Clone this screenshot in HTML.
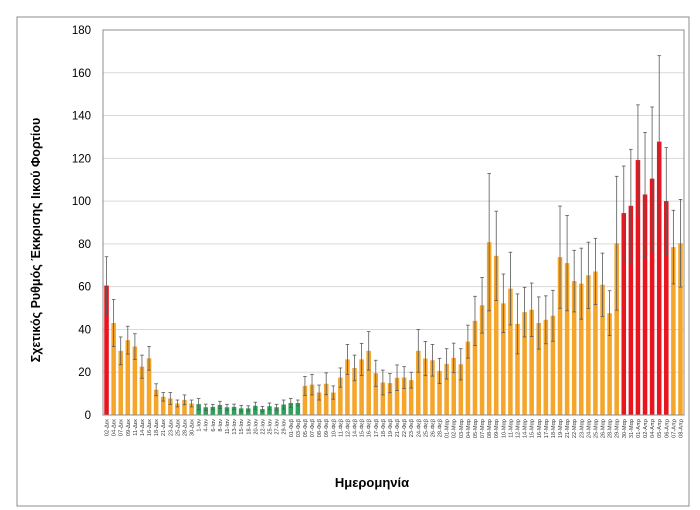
<!DOCTYPE html>
<html><head><meta charset="utf-8"><style>
html,body{margin:0;padding:0;background:#fff;}
svg{display:block;font-family:"Liberation Sans",sans-serif;}
</style></head><body>
<svg id="chart" width="700" height="510">
<rect x="17" y="17" width="672" height="489" fill="#fff" stroke="#8c8c8c" stroke-width="1"/>
<g id="grid"></g>
<g id="bars"></g>
<g id="errs"></g>
<rect x="103" y="30" width="581" height="385" fill="none" stroke="#8c8c8c" stroke-width="1"/>
<g id="yticks"></g>
<g id="xticks"></g>
<text x="40" y="240" transform="rotate(-90 40 240)" text-anchor="middle" font-size="12.5" font-weight="bold" fill="#000">Σχετικός Ρυθμός Έκκρισης Ιικού Φορτίου</text>
<text x="372" y="487" text-anchor="middle" font-size="13" font-weight="bold" fill="#000">Ημερομηνία</text>
</svg>
<script>
const categories = ["02-Δεκ","04-Δεκ","07-Δεκ","09-Δεκ","11-Δεκ","14-Δεκ","16-Δεκ","18-Δεκ","21-Δεκ","23-Δεκ","25-Δεκ","28-Δεκ","30-Δεκ",
"1-Ιαν","4-Ιαν","6-Ιαν","8-Ιαν","11-Ιαν","13-Ιαν","15-Ιαν","18-Ιαν","20-Ιαν","22-Ιαν","25-Ιαν","27-Ιαν","29-Ιαν","01-Φεβ","03-Φεβ",
"05-Φεβ","07-Φεβ","08-Φεβ","09-Φεβ","10-Φεβ","11-Φεβ","12-Φεβ","14-Φεβ","15-Φεβ","16-Φεβ","17-Φεβ","18-Φεβ","19-Φεβ","21-Φεβ","22-Φεβ","23-Φεβ","24-Φεβ","25-Φεβ","26-Φεβ","28-Φεβ",
"01-Μαρ","02-Μαρ","03-Μαρ","04-Μαρ","05-Μαρ","07-Μαρ","08-Μαρ","09-Μαρ","10-Μαρ","11-Μαρ","12-Μαρ","14-Μαρ","15-Μαρ","16-Μαρ","17-Μαρ","18-Μαρ","19-Μαρ","21-Μαρ","22-Μαρ","23-Μαρ","24-Μαρ","25-Μαρ","26-Μαρ","28-Μαρ","29-Μαρ","30-Μαρ","31-Μαρ",
"01-Απρ","02-Απρ","04-Απρ","05-Απρ","06-Απρ","07-Απρ","08-Απρ"];
const values = [60.5,43,30,35,32,22.6,26.5,11.8,8.5,7.7,5.4,7.1,5.4,
5.1,3.6,3.8,4.7,3.6,3.8,3.1,3.1,4.3,2.8,4.1,3.6,4.9,5.6,5.6,
13.6,14.2,10.5,14.6,10.5,17.5,26,22,26,30,19.5,15.2,14.9,17.4,17.5,16.3,30,26.4,25.6,20.6,
23.9,26.7,23.7,34.3,44,51.3,80.8,74.4,52.2,59.1,42.6,48.1,49.2,43,44.5,46.4,73.8,71,62.6,61.4,65.3,67.1,60.9,47.6,80.3,94.4,97.8,
119.2,103.1,110.5,127.8,100,78.5,80.3];
const errors = [13.5,11,6.5,6.5,6,5.4,5.5,2.8,2,2.8,1.6,2.3,1.6,
2.6,1.5,1.2,1.7,1.4,1.3,1.4,1.2,1.7,1.2,1.5,1.4,2.1,2.1,1.4,
4.4,4.8,3.5,5.1,3.1,4.5,7,6,7.5,9,6.1,5.8,4.5,6,5.1,3.7,10,8,7.4,5.9,
7.1,6.9,7.3,7.7,11.5,13,32.1,20.9,13.7,17,14,11.6,12.5,12.2,11.2,11.9,23.9,22.3,14.4,16.6,15.5,15.5,14.8,10.5,31.3,22,26.4,
25.8,29,33.5,40.2,25,17.2,20.5];
const groups = ["r","o","o","o","o","o","o","o","o","o","o","o","o",
"g","g","g","g","g","g","g","g","g","g","g","g","g","g","g",
"o","o","o","o","o","o","o","o","o","o","o","o","o","o","o","o","o","o","o","o",
"o","o","o","o","o","o","o","o","o","o","o","o","o","o","o","o","o","o","o","o","o","o","o","o","o","r","r",
"r","r","r","r","r","o","o"];
const yTicks = [0,20,40,60,80,100,120,140,160,180];

const NS="http://www.w3.org/2000/svg";
const X0=103,X1=684,Y0=415,Y1=30,YMAX=180;
const band=(X1-X0)/categories.length;
const xs=i=>X0+band*(i+0.5);
const ys=v=>Y0-(v/YMAX)*(Y0-Y1);
const colors={o:"#f5a52a",r:"#e8141e",g:"#2ba35a"};
function mk(t,a,p){const e=document.createElementNS(NS,t);for(const k in a)e.setAttribute(k,a[k]);p.appendChild(e);return e;}
const grid=document.getElementById('grid'),yt=document.getElementById('yticks');
yTicks.forEach(v=>{
  if(v>0){const l=mk('line',{x1:X0,x2:X1,y1:ys(v),y2:ys(v),stroke:'#d9d9d9','stroke-width':1},grid);
  
  }
  const t=mk('text',{x:91,y:ys(v)+4,'text-anchor':'end','font-size':11.5,fill:'#000'},yt);
  t.textContent=v;
  
  
});
const bars=document.getElementById('bars'),errs=document.getElementById('errs'),xt=document.getElementById('xticks');
const bw=band*0.64;
categories.forEach((c,i)=>{
  const x=xs(i),v=values[i],e=errors[i];
  const r=mk('rect',{x:x-bw/2,y:ys(v),width:bw,height:Y0-ys(v),fill:colors[groups[i]]},bars);
  
  
  const g=mk('g',{stroke:'#595959','stroke-width':0.8},errs);
  
  
  mk('line',{x1:x,x2:x,y1:ys(v+e),y2:ys(Math.max(0,v-e))},g);
  mk('line',{x1:x-1.8,x2:x+1.8,y1:ys(v+e),y2:ys(v+e)},g);
  mk('line',{x1:x-1.8,x2:x+1.8,y1:ys(Math.max(0,v-e)),y2:ys(Math.max(0,v-e))},g);
  const t=mk('text',{x:0,y:0,transform:`translate(${x+2},419) rotate(-90)`,'text-anchor':'end','font-size':5.6,fill:'#333'},xt);
  t.textContent=c;
  
  
});
</script>
</body></html>
